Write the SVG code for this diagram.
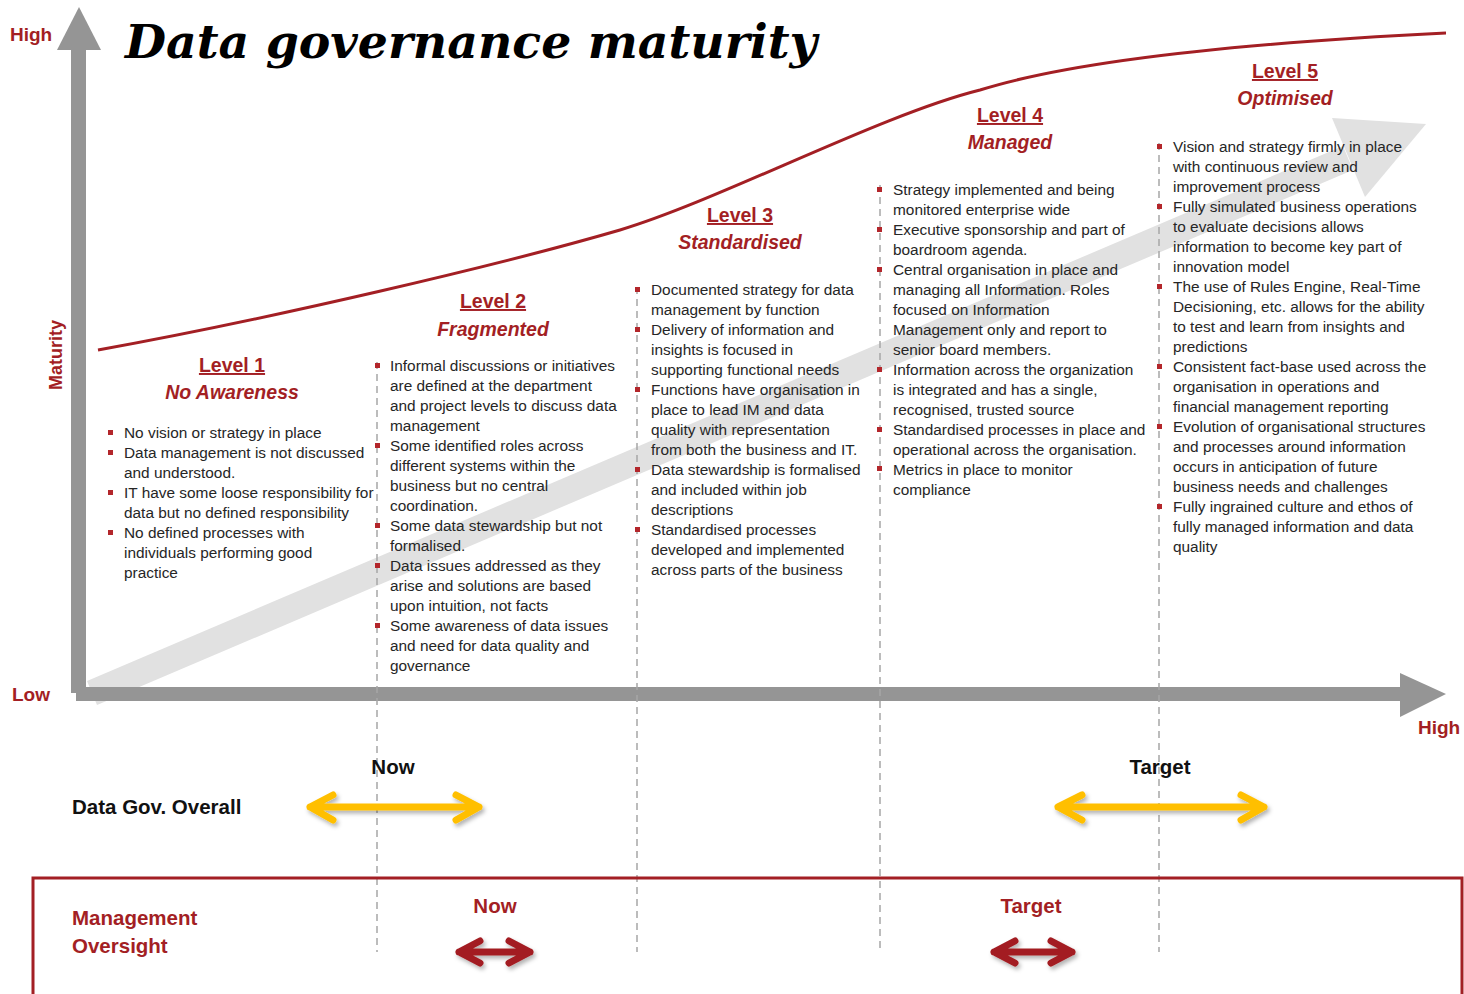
<svg xmlns="http://www.w3.org/2000/svg" width="1464" height="994" viewBox="0 0 1464 994">
<style>
.body{font-family:"Liberation Sans",Arial,sans-serif;font-size:15.4px;fill:#262626}
.hd{font-family:"Liberation Sans",Arial,sans-serif;font-size:19.5px;font-weight:bold;fill:#a31f24;text-anchor:middle}
.hdu{text-decoration:underline}
.hdi{font-style:italic}
.red{font-family:"Liberation Sans",Arial,sans-serif;font-weight:bold;fill:#a31f24}
.blk{font-family:"Liberation Sans",Arial,sans-serif;font-weight:bold;fill:#111}
.dash{stroke:#a6a6a6;stroke-width:1.5;stroke-dasharray:7 5;fill:none}
.bul{fill:#b3262b}
.axis{fill:#959595}
.ya{stroke:#ffbf00;stroke-width:7;fill:none;stroke-linecap:round;stroke-linejoin:round}
.ra{stroke:#a31f24;stroke-width:7;fill:none;stroke-linecap:round;stroke-linejoin:round}
</style>
<defs>
<filter id="sh" x="-20%" y="-50%" width="140%" height="200%">
<feDropShadow dx="2" dy="3" stdDeviation="2" flood-color="#000" flood-opacity="0.3"/>
</filter>
</defs>
<rect width="1464" height="994" fill="#fff"/>

<g id="trend-arrow">
<polygon points="87,681 97,705 1353,170 1343,146" fill="#e1e1e1"/>
<polygon points="1332,118 1426,124 1365,197" fill="#e1e1e1"/>
</g>

<g id="axes">
<rect class="axis" x="71" y="48" width="15" height="645"/>
<polygon class="axis" points="57,50 101,50 79,7"/>
<rect class="axis" x="76" y="687" width="1326" height="14"/>
<polygon class="axis" points="1400,673 1400,717 1446,694"/>
<text class="red" x="10" y="41" font-size="19">High</text>
<text class="red" x="12" y="701" font-size="19">Low</text>
<text class="red" x="1418" y="734" font-size="19">High</text>
<text class="red" font-size="18" transform="translate(62,355) rotate(-90)" text-anchor="middle">Maturity</text>
</g>

<text id="title" x="125" y="58" font-family="'DejaVu Serif',Georgia,serif" font-weight="bold" font-style="italic" font-size="47" textLength="692" lengthAdjust="spacingAndGlyphs" fill="#000">Data governance maturity</text>

<path id="curve" d="M98,350 C270,319 500,265 620,230 C720,200 880,115 980,90 C1060,65 1200,45 1446,33" fill="none" stroke="#a31f24" stroke-width="3"/>

<g id="dividers">
<line class="dash" x1="377" y1="362" x2="377" y2="952"/>
<line class="dash" x1="637" y1="287" x2="637" y2="952"/>
<line class="dash" x1="880" y1="185" x2="880" y2="948"/>
<line class="dash" x1="1159" y1="143" x2="1159" y2="952"/>
</g>

<g id="level1">
<text class="hd hdu" x="232" y="372">Level 1</text>
<text class="hd hdi" x="232" y="399">No Awareness</text>
<rect class="bul" x="108" y="430" width="5" height="5"/>
<rect class="bul" x="108" y="450" width="5" height="5"/>
<rect class="bul" x="108" y="490" width="5" height="5"/>
<rect class="bul" x="108" y="530" width="5" height="5"/>
<text class="body"><tspan x="124" y="438">No vision or strategy in place</tspan><tspan x="124" dy="20">Data management is not discussed</tspan><tspan x="124" dy="20">and understood.</tspan><tspan x="124" dy="20">IT have some loose responsibility for</tspan><tspan x="124" dy="20">data but no defined responsibility</tspan><tspan x="124" dy="20">No defined processes with</tspan><tspan x="124" dy="20">individuals performing good</tspan><tspan x="124" dy="20">practice</tspan></text>
</g>

<g id="level2">
<text class="hd hdu" x="493" y="308">Level 2</text>
<text class="hd hdi" x="493" y="336">Fragmented</text>
<rect class="bul" x="375" y="363" width="5" height="5"/>
<rect class="bul" x="375" y="443" width="5" height="5"/>
<rect class="bul" x="375" y="523" width="5" height="5"/>
<rect class="bul" x="375" y="563" width="5" height="5"/>
<rect class="bul" x="375" y="623" width="5" height="5"/>
<text class="body"><tspan x="390" y="371">Informal discussions or initiatives</tspan><tspan x="390" dy="20">are defined at the department</tspan><tspan x="390" dy="20">and project levels to discuss data</tspan><tspan x="390" dy="20">management</tspan><tspan x="390" dy="20">Some identified roles across</tspan><tspan x="390" dy="20">different systems within the</tspan><tspan x="390" dy="20">business but no central</tspan><tspan x="390" dy="20">coordination.</tspan><tspan x="390" dy="20">Some data stewardship but not</tspan><tspan x="390" dy="20">formalised.</tspan><tspan x="390" dy="20">Data issues addressed as they</tspan><tspan x="390" dy="20">arise and solutions are based</tspan><tspan x="390" dy="20">upon intuition, not facts</tspan><tspan x="390" dy="20">Some awareness of data issues</tspan><tspan x="390" dy="20">and need for data quality and</tspan><tspan x="390" dy="20">governance</tspan></text>
</g>

<g id="level3">
<text class="hd hdu" x="740" y="222">Level 3</text>
<text class="hd hdi" x="740" y="249">Standardised</text>
<rect class="bul" x="635" y="287" width="5" height="5"/>
<rect class="bul" x="635" y="327" width="5" height="5"/>
<rect class="bul" x="635" y="387" width="5" height="5"/>
<rect class="bul" x="635" y="467" width="5" height="5"/>
<rect class="bul" x="635" y="527" width="5" height="5"/>
<text class="body"><tspan x="651" y="295">Documented strategy for data</tspan><tspan x="651" dy="20">management by function</tspan><tspan x="651" dy="20">Delivery of information and</tspan><tspan x="651" dy="20">insights is focused in</tspan><tspan x="651" dy="20">supporting functional needs</tspan><tspan x="651" dy="20">Functions have organisation in</tspan><tspan x="651" dy="20">place to lead IM and data</tspan><tspan x="651" dy="20">quality with representation</tspan><tspan x="651" dy="20">from both the business and IT.</tspan><tspan x="651" dy="20">Data stewardship is formalised</tspan><tspan x="651" dy="20">and included within job</tspan><tspan x="651" dy="20">descriptions</tspan><tspan x="651" dy="20">Standardised processes</tspan><tspan x="651" dy="20">developed and implemented</tspan><tspan x="651" dy="20">across parts of the business</tspan></text>
</g>

<g id="level4">
<text class="hd hdu" x="1010" y="122">Level 4</text>
<text class="hd hdi" x="1010" y="149">Managed</text>
<rect class="bul" x="877" y="187" width="5" height="5"/>
<rect class="bul" x="877" y="227" width="5" height="5"/>
<rect class="bul" x="877" y="267" width="5" height="5"/>
<rect class="bul" x="877" y="367" width="5" height="5"/>
<rect class="bul" x="877" y="427" width="5" height="5"/>
<rect class="bul" x="877" y="466" width="5" height="5"/>
<text class="body"><tspan x="893" y="195">Strategy implemented and being</tspan><tspan x="893" dy="20">monitored enterprise wide</tspan><tspan x="893" dy="20">Executive sponsorship and part of</tspan><tspan x="893" dy="20">boardroom agenda.</tspan><tspan x="893" dy="20">Central organisation in place and</tspan><tspan x="893" dy="20">managing all Information. Roles</tspan><tspan x="893" dy="20">focused on Information</tspan><tspan x="893" dy="20">Management only and report to</tspan><tspan x="893" dy="20">senior board members.</tspan><tspan x="893" dy="20">Information across the organization</tspan><tspan x="893" dy="20">is integrated and has a single,</tspan><tspan x="893" dy="20">recognised, trusted source</tspan><tspan x="893" dy="20">Standardised processes in place and</tspan><tspan x="893" dy="20">operational across the organisation.</tspan><tspan x="893" dy="20">Metrics in place to monitor</tspan><tspan x="893" dy="20">compliance</tspan></text>
</g>

<g id="level5">
<text class="hd hdu" x="1285" y="78">Level 5</text>
<text class="hd hdi" x="1285" y="105">Optimised</text>
<rect class="bul" x="1157" y="144" width="5" height="5"/>
<rect class="bul" x="1157" y="204" width="5" height="5"/>
<rect class="bul" x="1157" y="284" width="5" height="5"/>
<rect class="bul" x="1157" y="364" width="5" height="5"/>
<rect class="bul" x="1157" y="424" width="5" height="5"/>
<rect class="bul" x="1157" y="504" width="5" height="5"/>
<text class="body"><tspan x="1173" y="152">Vision and strategy firmly in place</tspan><tspan x="1173" dy="20">with continuous review and</tspan><tspan x="1173" dy="20">improvement process</tspan><tspan x="1173" dy="20">Fully simulated business operations</tspan><tspan x="1173" dy="20">to evaluate decisions allows</tspan><tspan x="1173" dy="20">information to become key part of</tspan><tspan x="1173" dy="20">innovation model</tspan><tspan x="1173" dy="20">The use of Rules Engine, Real-Time</tspan><tspan x="1173" dy="20">Decisioning, etc. allows for the ability</tspan><tspan x="1173" dy="20">to test and learn from insights and</tspan><tspan x="1173" dy="20">predictions</tspan><tspan x="1173" dy="20">Consistent fact-base used across the</tspan><tspan x="1173" dy="20">organisation in operations and</tspan><tspan x="1173" dy="20">financial management reporting</tspan><tspan x="1173" dy="20">Evolution of organisational structures</tspan><tspan x="1173" dy="20">and processes around information</tspan><tspan x="1173" dy="20">occurs in anticipation of future</tspan><tspan x="1173" dy="20">business needs and challenges</tspan><tspan x="1173" dy="20">Fully ingrained culture and ethos of</tspan><tspan x="1173" dy="20">fully managed information and data</tspan><tspan x="1173" dy="20">quality</tspan></text>
</g>

<g id="data-gov-row">
<text class="blk" x="72" y="814" font-size="20.5">Data Gov. Overall</text>
<text class="blk" x="393" y="774" font-size="20.5" text-anchor="middle">Now</text>
<text class="blk" x="1160" y="774" font-size="20.5" text-anchor="middle">Target</text>
</g>

<g id="oversight-box">
<path d="M33,994 L33,878 L1462,878 L1462,994" fill="none" stroke="#a31f24" stroke-width="3"/>
<text class="red" x="72" y="925" font-size="20.5">Management</text>
<text class="red" x="72" y="953" font-size="20.5">Oversight</text>
<text class="red" x="495" y="913" font-size="20.5" text-anchor="middle">Now</text>
<text class="red" x="1031" y="913" font-size="20.5" text-anchor="middle">Target</text>
</g>

<g id="connectors">
<path class="ya" filter="url(#sh)" d="M310,807 L479,807 M333,795 L310,807 L333,820 M456,795 L479,807 L456,820"/>
<path class="ya" filter="url(#sh)" d="M1058,807 L1264,807 M1082,795 L1058,807 L1082,820 M1241,795 L1264,807 L1241,820"/>
<path class="ra" filter="url(#sh)" d="M459,952 L530,952 M480,941 L459,952 L480,963 M509,941 L530,952 L509,963"/>
<path class="ra" filter="url(#sh)" d="M994,952 L1072,952 M1015,941 L994,952 L1015,963 M1051,941 L1072,952 L1051,963"/>
</g>
</svg>
